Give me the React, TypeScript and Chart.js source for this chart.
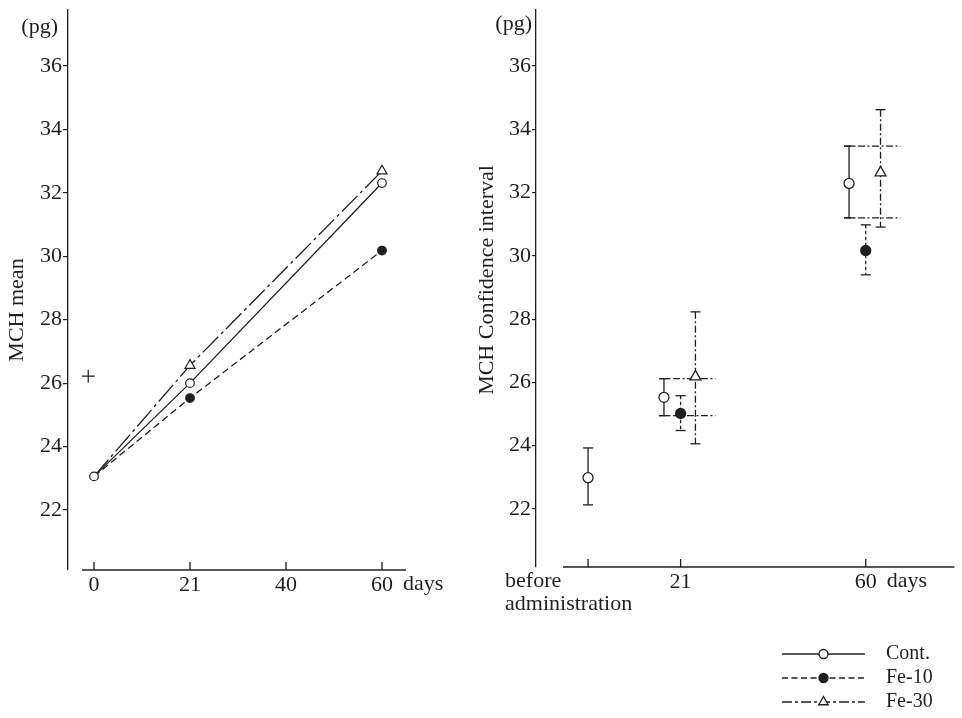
import React, { useEffect, useRef } from 'react';
import { Chart, registerables } from 'chart.js';

Chart.register(...registerables);

const FONT = "'Liberation Serif', 'Times New Roman', serif";
const INK = '#1f1f1f';

// ---------- Left panel: MCH mean ----------
const MEAN_X_SLOTS = ['0', '21', '40', '60'];
const MEAN_DAYS = ['0', '21', '60'];
const CONT_MEAN = [23.06, 26.0, 32.31];
const FE10_MEAN = [23.06, 25.53, 30.18];
const FE30_MEAN = [23.06, 26.56, 32.69];
const PLUS_MARK_DAY = '0';
const PLUS_MARK_VALUE = 26.22;
const Y_TICKS = [22, 24, 26, 28, 30, 32, 34, 36];

// ---------- Right panel: MCH confidence interval ----------
const CI_X_SLOTS = ['before administration', '21', '40', '60'];
const CI_X_TICKS = ['before administration', '21', '60'];
const CONT_CI_DAYS = ['before administration', '21', '60'];
const CONT_CI_MEAN = [22.99, 25.53, 32.29];
const CONT_CI_LOW = [22.13, 24.95, 31.2];
const CONT_CI_HIGH = [23.93, 26.12, 33.47];
const FE10_CI_DAYS = ['21', '60'];
const FE10_CI_MEAN = [25.02, 30.17];
const FE10_CI_LOW = [24.48, 29.4];
const FE10_CI_HIGH = [25.58, 30.98];
const FE30_CI_DAYS = ['21', '60'];
const FE30_CI_MEAN = [26.18, 32.63];
const FE30_CI_LOW = [24.06, 30.91];
const FE30_CI_HIGH = [28.23, 34.62];

const SERIES = ['Cont.', 'Fe-10', 'Fe-30'];

// ---------- styles ----------
const STYLE: Record<string, any> = {
  'Cont.': { dash: [], errDash: [], legendDash: [], marker: 'circle', fill: '#ffffff', dodge: -0.18 },
  'Fe-10': { dash: [7, 4], errDash: [3.5, 2.5], legendDash: [6, 3.5], marker: 'circle', fill: INK, dodge: 0 },
  'Fe-30': { dash: [22, 4, 3, 4], errDash: [7, 2.5, 2, 2.5], legendDash: [10, 3, 3, 3], marker: 'triangle', fill: '#ffffff', dodge: 0.16 },
};
const PLUS_NUDGE = -0.06;
const CAP = 5;
const LABEL_PAD = -6;
const LABEL_MID = 14.2;

function line(ctx: CanvasRenderingContext2D, x1: number, y1: number, x2: number, y2: number) {
  ctx.beginPath();
  ctx.moveTo(x1, y1);
  ctx.lineTo(x2, y2);
  ctx.stroke();
}

function drawMarker(ctx: CanvasRenderingContext2D, kind: string, x: number, y: number, r: number, fill: string) {
  ctx.beginPath();
  if (kind === 'circle') {
    ctx.arc(x, y, r, 0, Math.PI * 2);
  } else {
    let rad = 0;
    ctx.moveTo(x + Math.sin(rad) * r, y - Math.cos(rad) * r);
    rad += (Math.PI * 2) / 3;
    ctx.lineTo(x + Math.sin(rad) * r, y - Math.cos(rad) * r);
    rad += (Math.PI * 2) / 3;
    ctx.lineTo(x + Math.sin(rad) * r, y - Math.cos(rad) * r);
    ctx.closePath();
  }
  ctx.fillStyle = fill;
  ctx.fill();
  ctx.setLineDash([]);
  ctx.stroke();
}

function yScale(min: number, max: number, width: number, tickLen: number, pad: number) {
  return {
    type: 'linear',
    min,
    max,
    afterBuildTicks: (s: any) => {
      s.ticks = Y_TICKS.map((v) => ({ value: v }));
    },
    afterFit: (s: any) => {
      s.width = width;
    },
    grid: { display: true, drawOnChartArea: false, drawTicks: true, tickLength: tickLen, color: INK, lineWidth: 1.2 },
    border: { display: true, color: INK, width: 1.3 },
    ticks: { font: { family: FONT, size: 22, lineHeight: 0.8 }, color: INK, padding: pad, callback: (v: any) => String(v) },
  };
}

function xScale(min: number, max: number, height: number, positions: number[], labels: string[]) {
  return {
    type: 'linear',
    min,
    max,
    afterBuildTicks: (s: any) => {
      s.ticks = positions.map((v) => ({ value: v }));
    },
    afterFit: (s: any) => {
      s.height = height;
    },
    grid: { display: false },
    border: { display: false },
    ticks: {
      autoSkip: false,
      maxRotation: 0,
      minRotation: 0,
      padding: LABEL_PAD,
      font: { family: FONT, size: 22 },
      color: INK,
      callback: (_v: any, i: number) => labels[i],
    },
  };
}

function decorPlugin(p: any) {
  return {
    id: 'decor',
    beforeDatasetsDraw(chart: any) {
      if (!p.errorBars) return;
      const { ctx, scales } = chart;
      const y = scales.y;
      ctx.save();
      ctx.strokeStyle = INK;
      ctx.lineWidth = 1.3;
      chart.data.datasets.forEach((ds: any, di: number) => {
        const meta = chart.getDatasetMeta(di);
        const st = STYLE[ds.label];
        meta.data.forEach((pt: any, j: number) => {
          const yl = y.getPixelForValue(ds.ciLow[j]);
          const yh = y.getPixelForValue(ds.ciHigh[j]);
          ctx.setLineDash(st.errDash);
          line(ctx, pt.x, yh, pt.x, yl);
          ctx.setLineDash([]);
          line(ctx, pt.x - CAP, yh, pt.x + CAP, yh);
          line(ctx, pt.x - CAP, yl, pt.x + CAP, yl);
        });
      });
      // dash-dot guide lines at Control CI limits, carried across to Fe-30
      const contMeta = chart.getDatasetMeta(0);
      const fe30Meta = chart.getDatasetMeta(2);
      ctx.setLineDash(STYLE['Fe-30'].errDash);
      FE30_CI_DAYS.forEach((d, j) => {
        const ci = CONT_CI_DAYS.indexOf(d);
        if (ci < 0) return;
        const x1 = contMeta.data[ci].x - CAP;
        const x2 = fe30Meta.data[j].x + 20;
        [CONT_CI_LOW[ci], CONT_CI_HIGH[ci]].forEach((v) => {
          const py = y.getPixelForValue(v);
          line(ctx, x1, py, x2, py);
        });
      });
      ctx.restore();
    },
    afterDraw(chart: any) {
      const { ctx, chartArea: a, scales } = chart;
      const x = scales.x;
      ctx.save();
      ctx.strokeStyle = INK;
      ctx.fillStyle = INK;
      ctx.lineWidth = 1.3;
      ctx.setLineDash([]);
      // x axis line
      line(ctx, a.left + p.axisGap, a.bottom, a.right, a.bottom);
      // inward ticks
      x.ticks.forEach((t: any) => {
        const px = x.getPixelForValue(t.value);
        line(ctx, px, a.bottom, px, a.bottom - 8);
      });
      ctx.font = `22px ${FONT}`;
      ctx.textBaseline = 'middle';
      // "days"
      const lastPx = x.getPixelForValue(x.ticks[x.ticks.length - 1].value);
      ctx.textAlign = 'left';
      ctx.fillText('days', lastPx + 21, a.bottom + LABEL_MID);
      // first label split in two lines
      if (p.firstLabelLines) {
        const fx = x.getPixelForValue(x.ticks[0].value) + p.firstLabelDx;
        p.firstLabelLines.forEach((s: string, i: number) => {
          ctx.fillText(s, fx, a.bottom + LABEL_MID + i * 23);
        });
      }
      // unit
      ctx.textAlign = 'right';
      ctx.fillText('(pg)', a.left - p.unitGap, a.top + p.unitDy);
      // axis title
      ctx.save();
      ctx.translate(p.titleX, p.titleY);
      ctx.rotate(-Math.PI / 2);
      ctx.textAlign = 'center';
      ctx.fillText(p.title, 0, 0);
      ctx.restore();
      // legend
      if (p.legend) {
        const L = p.legend;
        SERIES.forEach((name, i) => {
          const st = STYLE[name];
          const ry = L.rows[i];
          ctx.strokeStyle = INK;
          ctx.lineWidth = 1.3;
          ctx.setLineDash(st.legendDash);
          line(ctx, L.from, ry, L.to, ry);
          drawMarker(ctx, st.marker, L.mark, ry, st.marker === 'circle' ? 4.5 : 5.5, st.fill);
          ctx.fillStyle = INK;
          ctx.font = `${L.size}px ${FONT}`;
          ctx.textAlign = 'left';
          ctx.textBaseline = 'middle';
          ctx.fillText(name, L.text, ry);
        });
      }
      ctx.restore();
    },
  };
}

function meanDataset(name: string, values: number[]) {
  const st = STYLE[name];
  return {
    label: name,
    data: MEAN_DAYS.map((d, i) => ({ x: MEAN_X_SLOTS.indexOf(d), y: values[i] })),
    borderColor: INK,
    borderWidth: 1.3,
    borderDash: st.dash,
    pointStyle: st.marker,
    pointRadius: MEAN_DAYS.map((_d, i) => (i === 0 && name !== 'Cont.' ? 0 : st.marker === 'circle' ? 4.3 : 5.8)),
    pointBackgroundColor: st.fill,
    pointBorderColor: INK,
    pointBorderWidth: 1.2,
    order: SERIES.indexOf(name),
    fill: false,
    tension: 0,
  };
}

function ciDataset(name: string, days: string[], mean: number[], low: number[], high: number[]) {
  const st = STYLE[name];
  const groupSize = (d: string) => [CONT_CI_DAYS, FE10_CI_DAYS, FE30_CI_DAYS].filter((g) => g.includes(d)).length;
  return {
    label: name,
    data: days.map((d, i) => ({ x: CI_X_SLOTS.indexOf(d) + (groupSize(d) > 1 ? st.dodge : 0), y: mean[i] })),
    ciLow: low,
    ciHigh: high,
    showLine: false,
    borderColor: INK,
    pointStyle: st.marker,
    pointRadius: st.marker === 'circle' ? 5 : 6.3,
    pointBackgroundColor: st.fill,
    pointBorderColor: INK,
    pointBorderWidth: 1.3,
  };
}

function LeftChart() {
  const ref = useRef<HTMLCanvasElement>(null);
  useEffect(() => {
    const chart = new Chart(ref.current as HTMLCanvasElement, {
      type: 'line',
      data: {
        datasets: [
          meanDataset('Cont.', CONT_MEAN),
          meanDataset('Fe-10', FE10_MEAN),
          meanDataset('Fe-30', FE30_MEAN),
          {
            type: 'scatter',
            label: '+',
            data: [{ x: MEAN_X_SLOTS.indexOf(PLUS_MARK_DAY) + PLUS_NUDGE, y: PLUS_MARK_VALUE }],
            pointStyle: 'cross',
            pointRadius: 6.5,
            pointBorderColor: INK,
            pointBorderWidth: 1.2,
            showLine: false,
            order: 5,
          } as any,
        ],
      },
      options: {
        responsive: false,
        animation: false,
        events: [],
        layout: { padding: { top: 10, right: 64, left: 0, bottom: 0 } },
        plugins: { legend: { display: false }, tooltip: { enabled: false } },
        scales: {
          x: xScale(-0.2708, 3.25, 148, MEAN_X_SLOTS.map((_s, i) => i), MEAN_X_SLOTS) as any,
          y: yScale(20.108, 37.766, 68, 5, 1) as any,
        },
      } as any,
      plugins: [
        decorPlugin({ axisGap: 14, unitGap: 10, unitDy: 17, title: 'MCH mean', titleX: 17, titleY: 310 }) as any,
      ],
    });
    return () => chart.destroy();
  }, []);
  return <canvas ref={ref} width={470} height={718} style={{ width: 470, height: 718, display: 'block' }} />;
}

function RightChart() {
  const ref = useRef<HTMLCanvasElement>(null);
  useEffect(() => {
    const tickPos = CI_X_TICKS.map((t) => CI_X_SLOTS.indexOf(t));
    const tickLabels = CI_X_TICKS.map((t, i) => (i === 0 ? '' : t));
    const chart = new Chart(ref.current as HTMLCanvasElement, {
      type: 'scatter',
      data: {
        datasets: [
          ciDataset('Cont.', CONT_CI_DAYS, CONT_CI_MEAN, CONT_CI_LOW, CONT_CI_HIGH),
          ciDataset('Fe-10', FE10_CI_DAYS, FE10_CI_MEAN, FE10_CI_LOW, FE10_CI_HIGH),
          ciDataset('Fe-30', FE30_CI_DAYS, FE30_CI_MEAN, FE30_CI_LOW, FE30_CI_HIGH),
        ] as any,
      },
      options: {
        responsive: false,
        animation: false,
        events: [],
        layout: { padding: { top: 10, right: 0, left: 0, bottom: 0 } },
        plugins: { legend: { display: false }, tooltip: { enabled: false } },
        scales: {
          x: xScale(-0.5624, 3.958, 151, tickPos, tickLabels) as any,
          y: yScale(20.167, 37.77, 66, 4, 1) as any,
        },
      } as any,
      plugins: [
        decorPlugin({
          errorBars: true,
          axisGap: 27,
          unitGap: 4,
          unitDy: 14,
          title: 'MCH Confidence interval',
          titleX: 17.5,
          titleY: 280,
          firstLabelLines: ['before', 'administration'],
          firstLabelDx: -83,
          legend: { from: 312, to: 395, mark: 353.5, text: 416, rows: [654, 678, 702], size: 20 },
        }) as any,
      ],
    });
    return () => chart.destroy();
  }, []);
  return <canvas ref={ref} width={492} height={718} style={{ width: 492, height: 718, display: 'block' }} />;
}

export default function App() {
  return (
    <div style={{ position: 'fixed', left: 0, top: 0, width: 962, height: 718, background: '#ffffff', overflow: 'hidden' }}>
      <div style={{ position: 'absolute', left: 0, top: 0 }}>
        <LeftChart />
      </div>
      <div style={{ position: 'absolute', left: 470, top: 0 }}>
        <RightChart />
      </div>
    </div>
  );
}
